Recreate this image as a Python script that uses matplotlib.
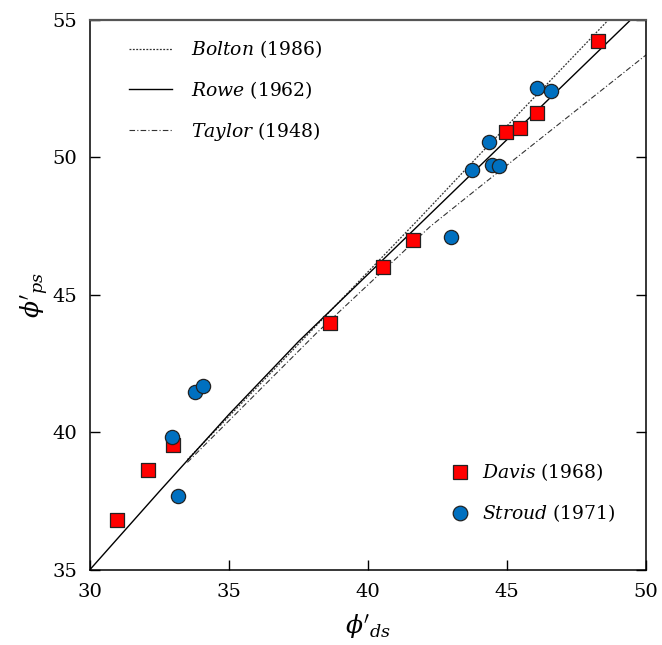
"""
Plane strain vs direct shear friction angle, with the Bolton / Rowe / Taylor
relations and the Davis (1968) and Stroud (1971) test data.
"""

import matplotlib
matplotlib.use("Agg")
import matplotlib.pyplot as plt
from matplotlib.lines import Line2D

# ---- data -----------------------------------------------------------------
# relation curves, phi'_ds -> phi'_ps (degrees)
bolton_ds = [33.5, 41.8, 44.0, 48.64]
bolton_ps = [39.0, 47.73, 50.09, 55.0]

rowe_ds = [30.0, 32.5, 35.0, 37.5, 40.0, 42.5, 45.0, 47.5, 49.44]
rowe_ps = [35.0, 37.85, 40.65, 43.3, 45.75, 48.2, 50.65, 53.1, 55.0]

taylor_ds = [33.5, 38.15, 42.23, 44.03, 50.0]
taylor_ps = [38.9, 43.61, 47.48, 48.94, 53.73]

# test results
davis_ds = [30.97, 32.09, 32.99, 38.63, 40.54, 41.62, 44.96, 45.47, 46.08, 48.27]
davis_ps = [36.82, 38.64, 39.55, 43.98, 46.02, 47.0, 50.93, 51.07, 51.62, 54.24]

stroud_ds = [32.95, 33.17, 33.78, 34.06, 42.99, 43.74, 44.35, 44.46, 44.71, 46.08, 46.58]
stroud_ps = [39.84, 37.69, 41.47, 41.69, 47.11, 49.55, 50.56, 49.73, 49.69, 52.53, 52.42]

x_ticks = [30, 35, 40, 45, 50]
y_ticks = [35, 40, 45, 50, 55]

plt.rcParams["font.family"] = ["DejaVu Serif"]
plt.rcParams["mathtext.fontset"] = "dejavuserif"

BOLTON_LS = (0, (1.5, 1.2))
TAYLOR_LS = (0, (5, 2, 1, 2))


def main() -> None:
    fig = plt.figure(figsize=(6.62, 6.45), dpi=100)
    ax = fig.add_axes([0.136, 0.117, 0.840, 0.852])

    ax.plot(bolton_ds, bolton_ps, color="#333333", lw=0.9, ls=BOLTON_LS)
    ax.plot(rowe_ds, rowe_ps, color="black", lw=1.0, ls="-")
    ax.plot(taylor_ds, taylor_ps, color="#333333", lw=0.8, ls=TAYLOR_LS)

    ax.scatter(davis_ds, davis_ps, marker="s", s=115, c="#ff0000",
               edgecolors="#222222", linewidths=0.9, zorder=3)
    ax.scatter(stroud_ds, stroud_ps, marker="o", s=105, c="#0070c0",
               edgecolors="#222222", linewidths=0.9, zorder=3)

    ax.set_xlim(30, 50)
    ax.set_ylim(35, 55)
    ax.set_xticks(x_ticks)
    ax.set_yticks(y_ticks)
    ax.tick_params(direction="in", length=7, width=1.0, labelsize=14,
                   top=False, right=True)
    ax.tick_params(axis="x", pad=10)
    ax.tick_params(axis="y", pad=9)
    for side in ("left", "right", "bottom"):
        ax.spines[side].set_linewidth(1.1)
        ax.spines[side].set_color("black")
    ax.spines["top"].set_linewidth(1.6)
    ax.spines["top"].set_color("#555555")

    ax.set_xlabel(r"$\phi'_{ds}$", fontsize=18, labelpad=8)
    ax.set_ylabel(r"$\phi'_{ps}$", fontsize=18, labelpad=2)

    line_handles = [
        Line2D([], [], color="#333333", lw=0.9, ls=BOLTON_LS),
        Line2D([], [], color="black", lw=1.0, ls="-"),
        Line2D([], [], color="#333333", lw=0.8, ls=TAYLOR_LS),
    ]
    line_labels = [r"$\mathit{Bolton}$ (1986)", r"$\mathit{Rowe}$ (1962)",
                   r"$\mathit{Taylor}$ (1948)"]
    leg1 = ax.legend(line_handles, line_labels, loc="upper left",
                     bbox_to_anchor=(0.04, 0.997), frameon=False, fontsize=13.5,
                     handlelength=2.3, handletextpad=1.0, labelspacing=1.0)
    ax.add_artist(leg1)

    mark_handles = [
        Line2D([], [], ls="none", marker="s", ms=10, mfc="#ff0000",
               mec="#222222", mew=0.9),
        Line2D([], [], ls="none", marker="o", ms=10.5, mfc="#0070c0",
               mec="#222222", mew=0.9),
    ]
    mark_labels = [r"$\mathit{Davis}$ (1968)", r"$\mathit{Stroud}$ (1971)"]
    ax.legend(mark_handles, mark_labels, loc="lower right",
              bbox_to_anchor=(0.975, 0.052), frameon=False, fontsize=13.5,
              handlelength=0.8, handletextpad=0.75, labelspacing=1.0)

    fig.savefig("out.png", dpi=100)
    plt.close(fig)


if __name__ == "__main__":
    main()
